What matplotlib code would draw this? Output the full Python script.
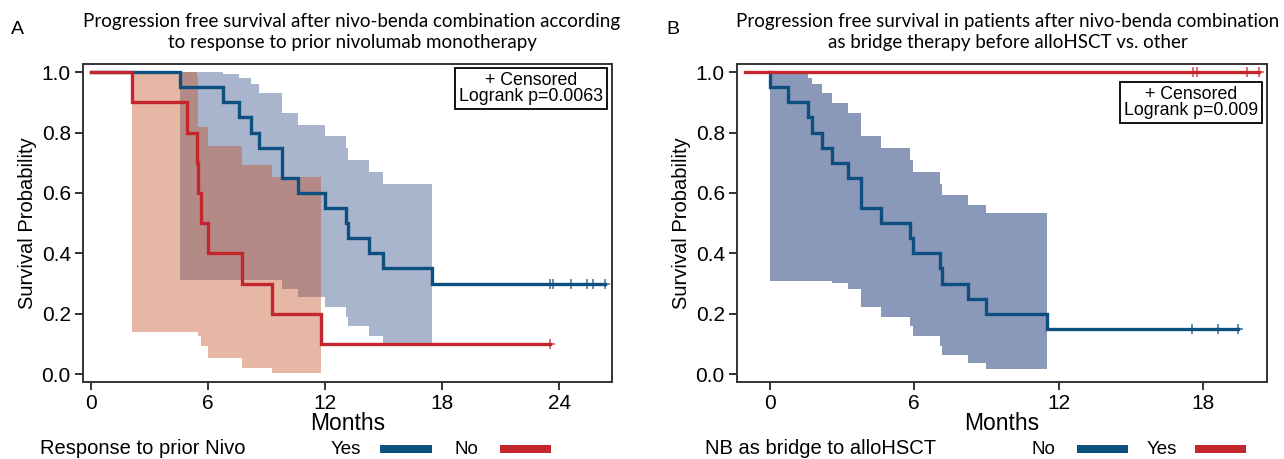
import numpy as np
import matplotlib
matplotlib.use('Agg')
import matplotlib.pyplot as plt
from matplotlib.patches import Rectangle

# ---- panel A : response to prior nivolumab ----
a_yes_t = [0, 4.57, 6.79, 7.59, 8.21, 8.62, 9.78, 10.6, 12.0, 13.06, 13.16, 14.27, 14.95, 17.46]
a_yes_s = [1.0, .95, .90, .85, .80, .75, .65, .60, .55, .50, .45, .40, .35, .30]
a_yes_up = [np.nan, 1.0, .994, .98, .961, .93, .864, .826, .787, .748, .71, .668, .629, np.nan]
a_yes_lo = [np.nan, .312, .312, .312, .312, .312, .281, .255, .224, .19, .158, .125, .094, np.nan]
a_yes_cens = [23.52, 23.69, 24.58, 25.4, 25.74, 26.34]

a_no_t = [0, 2.1, 4.95, 5.46, 5.51, 5.63, 6.02, 7.76, 9.27, 11.78]
a_no_s = [1.0, .90, .80, .70, .60, .50, .40, .30, .20, .10]
a_no_up = [np.nan, 1.0, 1.0, .98, .82, .82, .754, .693, .654, np.nan]
a_no_lo = [np.nan, .138, .138, .138, .125, .094, .053, .02, .003, np.nan]
a_no_cens = [23.52]

# ---- panel B : NB as bridge to alloHSCT ----
b_no_t = [0, 0.02, 0.78, 1.61, 1.75, 2.19, 2.61, 3.27, 3.80, 4.61, 5.83, 5.97, 7.07, 7.17, 8.25, 8.97, 11.5]
b_no_s = [1.0, .95, .90, .85, .80, .75, .70, .65, .55, .50, .45, .40, .35, .30, .25, .20, .15]
b_no_up = [np.nan, .994, .994, .98, .961, .93, .899, .864, .787, .748, .71, .669, .63, .594, .561, .533, np.nan]
b_no_lo = [np.nan, .31, .31, .31, .31, .31, .301, .281, .222, .189, .158, .125, .094, .065, .036, .018, np.nan]
b_no_cens = [17.54, 18.6, 19.43]

b_yes_t = [-1.0]
b_yes_s = [1.0]
b_yes_cens = [17.59, 17.75, 19.8, 20.3]

BLUE = '#0d4f7e'
RED = '#c4262e'
BLUE_CI = '#2a4482'
RED_CI = '#c54d20'
TXT = 'Liberation Sans'
TTL = 'Lato'


def draw_km(ax, t, s, up, lo, cens, color, ci_color, ci_alpha, lw=2.4):
    t = np.asarray(t, float)
    s = np.asarray(s, float)
    end = max(cens) if cens else t[-1]
    tt = np.append(t, end)
    ss = np.append(s, s[-1])
    if up is not None:
        up = np.asarray(up, float)
        lo = np.asarray(lo, float)
        idx = np.where(~np.isnan(up))[0]
        xs = np.append(t[idx], t[idx[-1] + 1])
        u = np.append(up[idx], up[idx[-1]])
        l = np.append(lo[idx], lo[idx[-1]])
        ax.fill_between(xs, l, u, step='post', color=ci_color, alpha=ci_alpha,
                        lw=0, zorder=1)
    ax.step(tt, ss, where='post', color=color, lw=lw, zorder=3,
            solid_joinstyle='miter')
    if cens:
        cy = s[np.searchsorted(t, cens, side='right') - 1]
        ax.plot(cens, cy, ls='none', marker='+', ms=7, mew=1.3,
                color=color, alpha=0.7, zorder=4)


def style_ax(ax, xlim, xticks):
    ax.set_xlim(*xlim)
    ax.set_ylim(-0.025, 1.026)
    ax.set_xticks(xticks)
    ax.set_yticks([0, .2, .4, .6, .8, 1.0])
    ax.set_yticklabels(['0.0', '0.2', '0.4', '0.6', '0.8', '1.0'])
    for sp in ax.spines.values():
        sp.set_color('#333333')
        sp.set_linewidth(1.4)
    ax.tick_params(direction='out', length=6, width=1.4, color='#333333',
                   labelsize=15, pad=3)
    for lab in ax.get_xticklabels() + ax.get_yticklabels():
        lab.set_family(TXT)
    ax.set_xlabel('Months', family=TXT, fontsize=16.5, labelpad=-1)
    ax.set_ylabel('Survival Probability', family=TXT, fontsize=14.5, labelpad=3)


def logrank_box(ax, x, y, txt):
    ax.text(x, y, txt, transform=ax.transAxes, ha='right', va='top',
            multialignment='center', family=TXT, fontsize=12.8, linespacing=0.95,
            bbox=dict(boxstyle='square,pad=0.22', fc='white', ec='black', lw=1.3),
            zorder=6)


fig = plt.figure(figsize=(12.84, 4.59), dpi=100)
W, H = 1284.0, 459.0

axA = fig.add_axes([83.3 / W, 1 - 381.7 / H, 528.4 / W, 317.4 / H])
draw_km(axA, a_yes_t, a_yes_s, a_yes_up, a_yes_lo, a_yes_cens, BLUE, BLUE_CI, 0.4)
draw_km(axA, a_no_t, a_no_s, a_no_up, a_no_lo, a_no_cens, RED, RED_CI, 0.4)
style_ax(axA, (-0.38, 26.68), [0, 6, 12, 18, 24])
logrank_box(axA, 0.984, 0.976, '+ Censored\nLogrank p=0.0063')

axB = fig.add_axes([737.3 / W, 1 - 381.7 / H, 529.4 / W, 317.4 / H])
draw_km(axB, b_no_t, b_no_s, b_no_up, b_no_lo, b_no_cens, BLUE, BLUE_CI, 0.55)
draw_km(axB, b_yes_t, b_yes_s, None, None, b_yes_cens, RED, RED_CI, 0.4)
style_ax(axB, (-1.34, 20.63), [0, 6, 12, 18])
logrank_box(axB, 0.984, 0.932, '+ Censored\nLogrank p=0.009')

# titles and panel letters
fig.text(352 / W, 1 - 32 / H,
         'Progression free survival after nivo-benda combination according\n'
         'to response to prior nivolumab monotherapy',
         ha='center', va='center', family=TTL, fontsize=13.5, linespacing=1.25)
fig.text(1008 / W, 1 - 32 / H,
         'Progression free survival in patients after nivo-benda combination\n'
         'as bridge therapy before alloHSCT vs. other',
         ha='center', va='center', family=TTL, fontsize=13.5, linespacing=1.25)
fig.text(11 / W, 1 - 30 / H, 'A', family=TXT, fontsize=14, va='center')
fig.text(666 / W, 1 - 30 / H, 'B', family=TXT, fontsize=14, va='center')

# bottom legends
ly = 1 - 449 / H


def legend_row(title, x_title, items):
    fig.text(x_title / W, ly, title, family=TXT, fontsize=14.5, va='center')
    for lab, x_lab, x0, x1, col in items:
        fig.text(x_lab / W, ly, lab, family=TXT, fontsize=13.5, va='center', ha='center')
        fig.add_artist(Rectangle((x0 / W, (1 - 453 / H)), (x1 - x0) / W, 8 / H,
                                 transform=fig.transFigure, color=col, lw=0))


legend_row('Response to prior Nivo', 40,
           [('Yes', 346, 380, 432, BLUE), ('No', 466, 500, 551, RED)])
legend_row('NB as bridge to alloHSCT', 705,
           [('No', 1043, 1077, 1128, BLUE), ('Yes', 1162, 1195, 1246, RED)])

fig.savefig('out.png', dpi=100)
